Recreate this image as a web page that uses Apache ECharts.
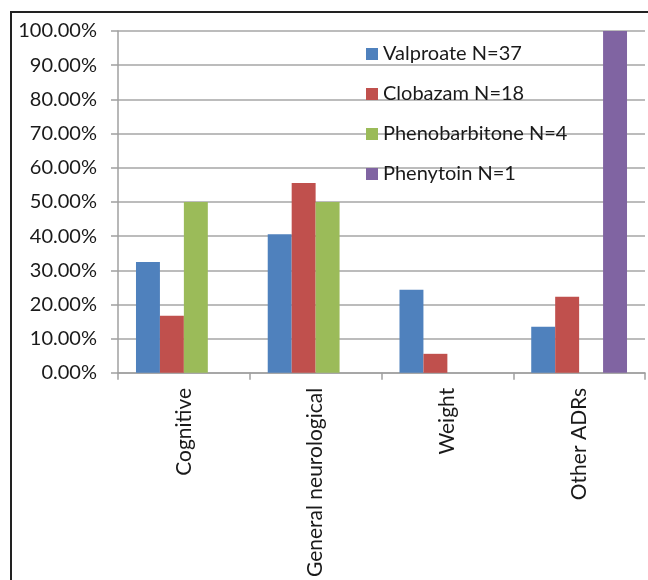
<!DOCTYPE html>
<html>
<head>
<meta charset="utf-8">
<script src="https://cdn.jsdelivr.net/npm/echarts@6/dist/echarts.min.js"></script>
<style>
  html, body { margin: 0; padding: 0; background: #ffffff; }
  #chart { width: 648px; height: 580px; }
</style>
</head>
<body>
<div id="chart"></div>
<script>
// Adverse drug reactions by category, percent of patients on each drug
const categories = ['Cognitive', 'General neurological', 'Weight', 'Other ADRs'];
const seriesNames = ['Valproate N=37', 'Clobazam N=18', 'Phenobarbitone N=4', 'Phenytoin N=1'];
const valproate = [32.43, 40.54, 24.32, 13.51];
const clobazam = [16.67, 55.56, 5.56, 22.22];
const phenobarbitone = [50.0, 50.0, 0, 0];
const phenytoin = [0, 0, 0, 100.0];
const colors = ['#4F81BD', '#C0504D', '#9BBB59', '#8064A2'];

const FONT = 'Lato, "Open Sans", sans-serif';
const values = [valproate, clobazam, phenobarbitone, phenytoin];

const chart = echarts.init(document.getElementById('chart'), null, { renderer: 'canvas' });
chart.setOption({
  animation: false,
  backgroundColor: '#ffffff',
  graphic: [{
    type: 'rect',
    shape: { x: 11, y: 12, width: 800, height: 800 },
    style: { fill: 'none', stroke: '#222222', lineWidth: 2 },
    silent: true
  }],
  grid: { left: 118, top: 31, right: 3, bottom: 206, containLabel: false },
  legend: {
    orient: 'vertical',
    left: 361,
    top: 39,
    itemWidth: 12,
    itemHeight: 12,
    itemGap: 20,
    icon: 'rect',
    textStyle: { fontFamily: FONT, fontSize: 20, color: '#1a1a1a', padding: [0, 0, 0, 0] },
    data: seriesNames
  },
  xAxis: {
    type: 'category',
    data: categories,
    axisLine: { lineStyle: { color: '#a0a0a0', width: 1.5 } },
    axisTick: { show: true, length: 7, lineStyle: { color: '#a0a0a0', width: 1.5 } },
    axisLabel: {
      rotate: 90,
      margin: 15,
      fontFamily: FONT,
      fontSize: 21,
      color: '#1a1a1a'
    }
  },
  yAxis: {
    type: 'value',
    min: 0,
    max: 100,
    interval: 10,
    axisLine: { show: true, lineStyle: { color: '#a0a0a0', width: 1.5 } },
    axisTick: { show: true, length: 7, lineStyle: { color: '#a0a0a0', width: 1.5 } },
    splitLine: { lineStyle: { color: '#a6a6a6', width: 1.5 } },
    axisLabel: {
      margin: 21,
      fontFamily: FONT,
      fontSize: 20,
      color: '#1a1a1a',
      formatter: v => v.toFixed(2) + '%'
    }
  },
  series: seriesNames.map((name, i) => ({
    name: name,
    type: 'bar',
    data: values[i],
    barGap: '0%',
    barCategoryGap: '27.3%',
    itemStyle: { color: colors[i] }
  }))
});
</script>
</body>
</html>
